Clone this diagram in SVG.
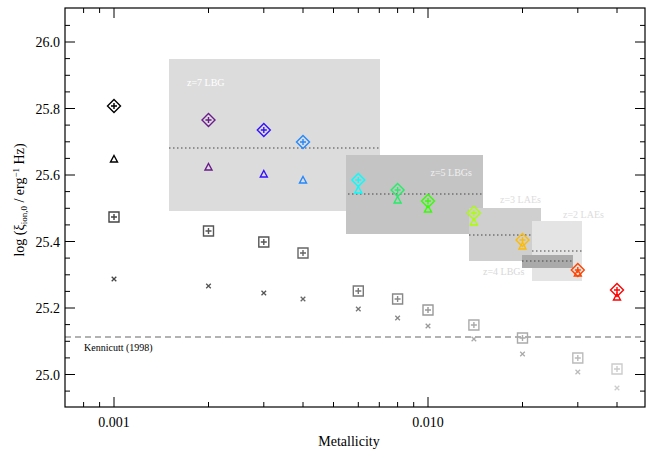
<svg xmlns="http://www.w3.org/2000/svg" xmlns:xlink="http://www.w3.org/1999/xlink" width="654" height="453" viewBox="0 0 654 453">
<style>
text{font-family:"Liberation Serif","Times New Roman",serif}
.ax{fill:none;stroke:#000;stroke-width:1.2}
.tk{stroke:#000;stroke-width:1}
.dot{stroke:#444;stroke-width:1.2;stroke-dasharray:1.5 2.5}
.num{font-size:14px;fill:#000}
</style>
<defs>
<g id="dia" fill="none" stroke="currentColor" stroke-width="1.4"><path d="M0,-6.5 L6.5,0 L0,6.5 L-6.5,0Z M-3,0 H3 M0,-3 V3"/></g>
<g id="tri" fill="none" stroke="currentColor" stroke-width="1.4"><path d="M0,-3.5 L3.5,3 L-3.5,3Z"/></g>
<g id="sq" fill="none" stroke="currentColor" stroke-width="1.4"><path d="M-5,-5 H5 V5 H-5Z M-3,0 H3 M0,-3 V3"/></g>
<g id="x" fill="none" stroke="currentColor" stroke-width="1.3"><path d="M-2.3,-2.3 L2.3,2.3 M-2.3,2.3 L2.3,-2.3"/></g>
</defs>
<rect width="654" height="453" fill="#fff"/>
<g id="regions">
<rect x="169" y="59" width="211" height="152" fill="#dcdcdc"/>
<line class="dot" x1="169" y1="148" x2="380" y2="148"/>
<text x="187" y="86" font-size="10" fill="#fff">z=7 LBG</text>
<rect x="346" y="155" width="137" height="79" fill="#c4c4c4"/>
<line class="dot" x1="348" y1="194" x2="483" y2="194"/>
<text x="472" y="176" font-size="10" fill="#f0f0f0" text-anchor="end">z=5 LBGs</text>
<rect x="469" y="208" width="72" height="53" fill="#cfcfcf"/>
<line class="dot" x1="469" y1="235" x2="532" y2="235"/>
<text x="500" y="203" font-size="10" fill="#dcdcdc">z=3 LAEs</text>
<rect x="532" y="221" width="50" height="60" fill="#e4e4e4"/>
<line class="dot" x1="532" y1="251" x2="582" y2="251"/>
<text x="563" y="218" font-size="10" fill="#dcdcdc">z=2 LAEs</text>
<rect x="522" y="255" width="51" height="13" fill="#aaa"/>
<line class="dot" x1="522" y1="261" x2="573" y2="261"/>
<text x="483" y="275" font-size="10" fill="#d8d8d8">z=4 LBGs</text>
</g>
<g id="kennicutt">
<line x1="65" y1="337" x2="645" y2="337" stroke="#666" stroke-width="1.2" stroke-dasharray="6 4"/>
<text x="84" y="351" font-size="10" fill="#000">Kennicutt (1998)</text>
</g>
<g id="crosses">
<use href="#x" x="114" y="279" color="#444"/><use href="#x" x="208.5" y="286" color="#555"/><use href="#x" x="263.8" y="293" color="#555"/><use href="#x" x="303" y="299" color="#666"/><use href="#x" x="358.3" y="309" color="#777"/><use href="#x" x="397.6" y="318" color="#888"/><use href="#x" x="428" y="326" color="#999"/><use href="#x" x="473.9" y="339" color="#aaa"/><use href="#x" x="522.5" y="354" color="#aaa"/><use href="#x" x="577.8" y="372" color="#bbb"/><use href="#x" x="617" y="388" color="#ccc"/>
</g>
<g id="squares">
<use href="#sq" x="114" y="217" color="#444"/><use href="#sq" x="208.5" y="231" color="#555"/><use href="#sq" x="263.8" y="242" color="#555"/><use href="#sq" x="303" y="253" color="#666"/><use href="#sq" x="358.3" y="291" color="#777"/><use href="#sq" x="397.6" y="299" color="#888"/><use href="#sq" x="428" y="310" color="#999"/><use href="#sq" x="473.9" y="325" color="#aaa"/><use href="#sq" x="522.5" y="338" color="#aaa"/><use href="#sq" x="577.8" y="358" color="#bbb"/><use href="#sq" x="617" y="369" color="#ccc"/>
</g>
<g id="triangles">
<use href="#tri" x="114" y="159" color="#000"/><use href="#tri" x="208.5" y="167" color="#6a1a8a"/><use href="#tri" x="263.8" y="174" color="#3311ff"/><use href="#tri" x="303" y="180" color="#2288ff"/><use href="#tri" x="358.3" y="190" color="#00ffff"/><use href="#tri" x="397.6" y="200" color="#22ee66"/><use href="#tri" x="428" y="209" color="#33ff00"/><use href="#tri" x="473.9" y="222" color="#aaff00"/><use href="#tri" x="522.5" y="246" color="#ffbb00"/><use href="#tri" x="577.8" y="273" color="#ff4400"/><use href="#tri" x="617" y="297" color="#ff0000"/>
</g>
<g id="diamonds">
<use href="#dia" x="114" y="106" color="#000"/><use href="#dia" x="208.5" y="120" color="#6a1a8a"/><use href="#dia" x="263.8" y="130" color="#3311ff"/><use href="#dia" x="303" y="142" color="#2288ff"/><use href="#dia" x="358.3" y="180" color="#00ffff"/><use href="#dia" x="397.6" y="190" color="#22ee66"/><use href="#dia" x="428" y="201" color="#33ff00"/><use href="#dia" x="473.9" y="213" color="#aaff00"/><use href="#dia" x="522.5" y="240" color="#ffbb00"/><use href="#dia" x="577.8" y="270" color="#ff4400"/><use href="#dia" x="617" y="290" color="#ff0000"/>
</g>
<g id="axes">
<rect class="ax" x="65" y="8" width="580" height="399"/>
<path class="tk" d="M114,407v-10M428,407v-10M114,8v10M428,8v10
M83.6,407v-5M99.6,407v-5M208.5,407v-5M263.8,407v-5M303,407v-5M333.5,407v-5M358.3,407v-5M379.3,407v-5M397.6,407v-5M413.7,407v-5M522.5,407v-5M577.8,407v-5M617,407v-5
M83.6,8v5M99.6,8v5M208.5,8v5M263.8,8v5M303,8v5M333.5,8v5M358.3,8v5M379.3,8v5M397.6,8v5M413.7,8v5M522.5,8v5M577.8,8v5M617,8v5
M65,42h10M65,108.5h10M65,175h10M65,241.5h10M65,308h10M65,374.5h10
M645,42h-10M645,108.5h-10M645,175h-10M645,241.5h-10M645,308h-10M645,374.5h-10
M65,25.4h5M65,58.6h5M65,75.3h5M65,91.9h5M65,125.1h5M65,141.8h5M65,158.4h5M65,191.6h5M65,208.3h5M65,224.9h5M65,258.1h5M65,274.8h5M65,291.4h5M65,324.6h5M65,341.3h5M65,357.9h5M65,391.1h5
M645,25.4h-5M645,58.6h-5M645,75.3h-5M645,91.9h-5M645,125.1h-5M645,141.8h-5M645,158.4h-5M645,191.6h-5M645,208.3h-5M645,224.9h-5M645,258.1h-5M645,274.8h-5M645,291.4h-5M645,324.6h-5M645,341.3h-5M645,357.9h-5M645,391.1h-5"/>
<g class="num" text-anchor="end">
<text x="60" y="47">26.0</text><text x="60" y="113.5">25.8</text><text x="60" y="180">25.6</text><text x="60" y="246.5">25.4</text><text x="60" y="313">25.2</text><text x="60" y="379.5">25.0</text>
</g>
<g class="num" text-anchor="middle">
<text x="114" y="427">0.001</text><text x="428" y="427">0.010</text>
<text x="349" y="446">Metallicity</text>
</g>
<text transform="translate(24,200) rotate(-90)" text-anchor="middle" font-size="14">log (ξ<tspan font-size="9" dy="3">ion,0</tspan><tspan dy="-3"> / erg</tspan><tspan font-size="9" dy="-5">−1</tspan><tspan dy="5"> Hz)</tspan></text>
</g>
</svg>
